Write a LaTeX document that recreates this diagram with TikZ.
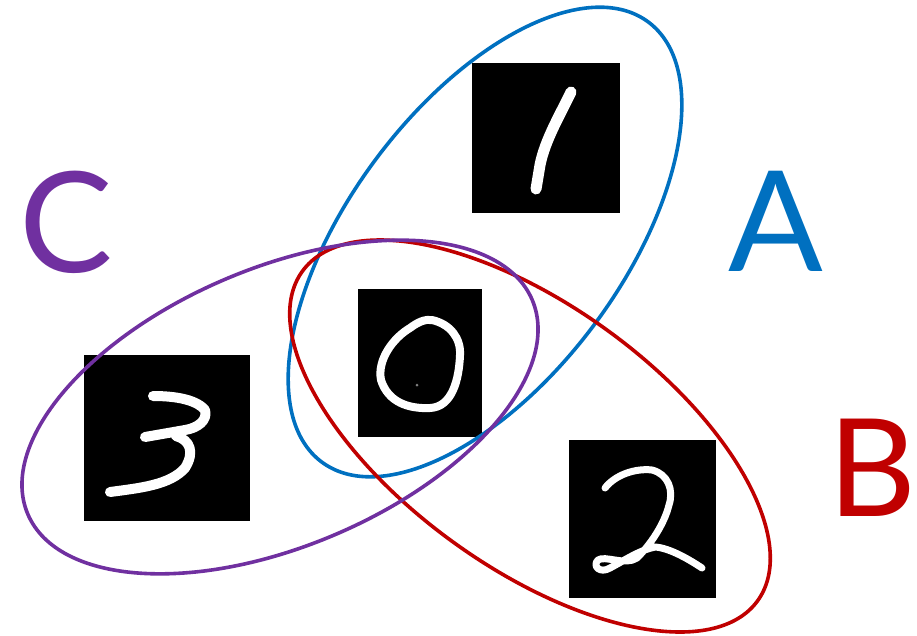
\documentclass[tikz,border=0pt]{standalone}
\usepackage{fontspec}
\setmainfont{Lato}
\definecolor{setA}{HTML}{0070C0}
\definecolor{setB}{HTML}{C00000}
\definecolor{setC}{HTML}{7030A0}
\begin{document}
\begin{tikzpicture}[x=1pt,y=-1pt,
  img/.style={fill=black,draw=none,inner sep=0pt},
  stroke/.style={draw=white,line width=#1,line cap=round,line join=round},
  stroke/.default=10pt,
  ring/.style={line width=3.6pt},
  letter/.style={inner sep=0pt,font=\fontsize{140}{140}\selectfont}]
\useasboundingbox (0,0) rectangle (917,635);
% images
\node[img,minimum width=148pt,minimum height=150pt] (one) at (546,138) {};
\node[img,minimum width=124pt,minimum height=148pt] (zero) at (420,363) {};
\node[img,minimum width=166pt,minimum height=166pt] (three) at (167,438) {};
\node[img,minimum width=147pt,minimum height=158pt] (two) at (642.5,519) {};
% digit 1
\draw[stroke=11pt] (571,92) .. controls (560,115) and (545,140) .. (540,165) -- (536,189);
% digit 0
\draw[stroke=8pt] (432,320) .. controls (450,324) and (461,338) .. (460,355)
  .. controls (459,380) and (452,407) .. (430,408)
  .. controls (408,409) and (388,402) .. (381,380)
  .. controls (377,360) and (393,338) .. (410,328)
  .. controls (418,322) and (425,319) .. (432,320) -- cycle;
\fill[gray] (417,385) circle (1.5pt);
% digit 3
\draw[stroke=10pt] (153,396) .. controls (170,396) and (195,398) .. (205,410)
  .. controls (208,420) and (198,428) .. (185,430) -- (145,437);
\draw[stroke=10pt] (176,436) .. controls (190,440) and (195,452) .. (185,468)
  .. controls (170,485) and (140,488) .. (110,492);
% digit 2
\draw[stroke=7pt] (605,488) .. controls (615,475) and (635,468) .. (652,470)
  .. controls (668,474) and (674,490) .. (669,505)
  .. controls (664,525) and (650,545) .. (637,558)
  .. controls (625,566) and (605,555) .. (598,560)
  .. controls (592,566) and (600,574) .. (610,568)
  .. controls (625,560) and (640,550) .. (655,547)
  .. controls (670,548) and (690,560) .. (702,568);
% ellipses
\draw[ring,setA] (485,242) ellipse [x radius=274pt, y radius=137pt, rotate=53.45];
\draw[ring,setB] (530,436) ellipse [x radius=281pt, y radius=131pt, rotate=-35.9];
\draw[ring,setC] (280,407) ellipse [x radius=274pt, y radius=139pt, rotate=23];
% labels
\node[letter,text=setC] (labC) at (66,222) {C};
\node[letter,text=setA] (labA) at (776,221) {A};
\node[letter,text=setB,font=\fontsize{136}{136}\selectfont] (labB) at (872,468) {B};
\end{tikzpicture}
\end{document}
